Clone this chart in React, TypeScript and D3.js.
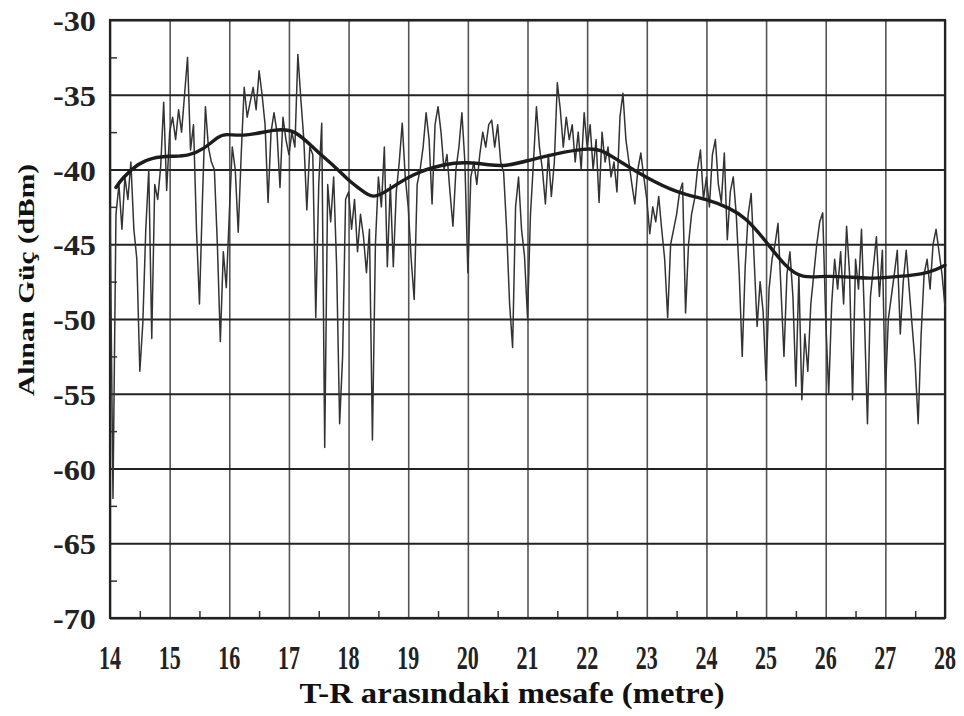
import * as d3 from "d3";
import { useEffect, useRef } from "react";

// raw received power, one sample every 0.05 m starting at 14 m
const rawStart = 14;
const rawStep = 0.05;
const rawPower = [
  // 14 m
  -42.5, -62, -43, -41, -44, -40.5, -42, -39.5, -44, -46,
  -53.5, -50.3, -44, -40, -51.3, -41, -42, -39.8, -35.5, -41.4,
  // 15 m
  -37.5, -36.5, -38, -36, -37.5, -35, -32.5, -38.7, -37, -44,
  -49, -42, -35.8, -38.5, -39.5, -40, -45, -51.5, -45.5, -47.9,
  // 16 m
  -43, -38.5, -40, -44.2, -39, -34.5, -36.5, -35.5, -34.5, -36,
  -33.4, -35, -37, -42.2, -37.5, -36.2, -37.5, -41.2, -36.5, -38,
  // 17 m
  -39, -37.5, -38.5, -32.3, -35.3, -38, -42.7, -38.5, -39, -49.9,
  -41, -36.9, -58.6, -41, -43.5, -40.5, -46.5, -57, -52.5, -42,
  // 18 m
  -41.5, -44, -42, -45.5, -43, -44.5, -46.9, -44, -58.1, -45,
  -40.5, -42.5, -38.5, -46.5, -41, -46.5, -41.5, -39.5, -36.9, -40.5,
  // 19 m
  -42.5, -46, -48.7, -41, -40, -38.5, -36.2, -38, -42.3, -37,
  -35.8, -37.5, -40, -39, -41.5, -43.8, -40, -38.5, -36.2, -39.5,
  // 20 m
  -46.9, -40.5, -39.5, -41, -39, -37.5, -38.5, -37, -36.7, -38.5,
  -37, -39.5, -40.2, -44, -49, -51.9, -42.5, -40.5, -44, -45.8,
  // 21 m
  -49.9, -43, -39.5, -35.8, -38.5, -40, -42.3, -39, -41.8, -39.5,
  -34.2, -36, -38.5, -36.5, -38, -37, -39.5, -37.5, -40, -36.2,
  // 22 m
  -38.5, -37, -40, -38, -42.2, -37.5, -39.5, -38.5, -40.5, -39.5,
  -41.5, -36.5, -34.9, -38, -39.5, -41, -42.3, -40, -38.9, -40.5,
  // 23 m
  -42, -44.3, -42.5, -43.5, -41.8, -44, -46, -49.9, -45, -44,
  -43, -41.5, -40.9, -49.6, -45, -43, -42, -40, -38.7, -42,
  // 24 m
  -40.5, -42.5, -39, -38, -41, -42.2, -38.9, -44.7, -41.5, -40.5,
  -43, -47, -52.5, -46.5, -43, -41.6, -46, -50.5, -47.5, -49.5,
  // 25 m
  -54.1, -48, -46, -45, -43.6, -48, -52.5, -47, -45.5, -48.5,
  -54.5, -47, -55.4, -51, -53.5, -49, -47, -45, -43.5, -42.9,
  // 26 m
  -50, -55, -49, -46, -48, -45.5, -49, -43.8, -47, -55.4,
  -46, -48, -44, -50, -57, -48.5, -46.5, -44.5, -48.5, -45.4,
  // 27 m
  -55, -50, -48.5, -47, -45.4, -51, -47.5, -45.4, -48, -50.5,
  -53, -57, -51, -47, -46, -48, -45, -44, -45.5, -47,
  // 28 m
  -49.2,
];

// running mean (thick line)
const meanDistance = [
  14.1, 14.2, 14.47, 14.7, 15.04, 15.31, 15.59, 15.81, 15.93, 16.26,
  16.77, 17.1, 17.44, 17.77, 17.99, 18.19, 18.41, 18.66, 19.06, 19.62,
  20.0, 20.37, 20.62, 21.01, 21.51, 21.96, 22.22, 22.52, 22.97, 23.52,
  24.03, 24.4, 24.65, 24.98, 25.32, 25.6, 25.99, 26.41, 26.74, 27.08,
  27.41, 27.75, 28.0,
];
const meanPower = [
  -41.2, -40.6, -39.6, -39.2, -39.1, -39.1, -38.6, -37.8, -37.6, -37.8,
  -37.3, -37.3, -38.7, -39.8, -40.7, -41.3, -42, -41.4, -40.3, -39.6,
  -39.5, -39.7, -39.8, -39.4, -38.9, -38.6, -38.6, -39.4, -40.5, -41.6,
  -42, -42.6, -43.2, -44.7, -46.5, -47.3, -47.1, -47.2, -47.3, -47.2,
  -47.1, -46.9, -46.4,
];

const xTicks = [14, 15, 16, 17, 18, 19, 20, 21, 22, 23, 24, 25, 26, 27, 28];
const yTicks = [-30, -35, -40, -45, -50, -55, -60, -65, -70];
const xMinorTicks = xTicks.slice(0, -1).map((d) => d + 0.5);
const yMinorTicks = yTicks.slice(1).map((d) => d + 2.5);

const xTitle = "T-R arasındaki mesafe (metre)";
const yTitle = "Alınan Güç (dBm)";

function App() {
  const ref = useRef<SVGSVGElement>(null);

  useEffect(() => {
    const svg = d3.select(ref.current);
    svg.selectAll("*").remove();

    const left = 110, right = 945, top = 20, bottom = 618;
    const font = "'Liberation Serif', 'Times New Roman', serif";

    const x = d3.scaleLinear().domain([14, 28]).range([left, right]);
    const y = d3.scaleLinear().domain([-70, -30]).range([bottom, top]);

    svg.append("rect").attr("width", 964).attr("height", 716).attr("fill", "#fff");

    // vertical grid
    const vg = svg
      .append("g")
      .attr("transform", `translate(0,${bottom})`)
      .call(d3.axisBottom(x).tickValues(xTicks).tickSize(-(bottom - top)).tickFormat(() => ""));
    vg.select(".domain").remove();
    vg.selectAll("line").attr("stroke", "#555").attr("stroke-width", 1.6);

    // horizontal grid
    const hg = svg
      .append("g")
      .attr("transform", `translate(${left},0)`)
      .call(d3.axisLeft(y).tickValues(yTicks).tickSize(-(right - left)).tickFormat(() => ""));
    hg.select(".domain").remove();
    hg.selectAll("line").attr("stroke", "#222").attr("stroke-width", 2.2);

    // minor ticks
    const mx = svg
      .append("g")
      .attr("transform", `translate(0,${bottom})`)
      .call(d3.axisBottom(x).tickValues(xMinorTicks).tickSize(-7).tickFormat(() => ""));
    mx.select(".domain").remove();
    mx.selectAll("line").attr("stroke", "#333").attr("stroke-width", 1.5);
    const my = svg
      .append("g")
      .attr("transform", `translate(${left},0)`)
      .call(d3.axisLeft(y).tickValues(yMinorTicks).tickSize(-7).tickFormat(() => ""));
    my.select(".domain").remove();
    my.selectAll("line").attr("stroke", "#333").attr("stroke-width", 1.5);

    // frame
    svg
      .append("rect")
      .attr("x", left)
      .attr("y", top)
      .attr("width", right - left)
      .attr("height", bottom - top)
      .attr("fill", "none")
      .attr("stroke", "#222")
      .attr("stroke-width", 2.2);

    // raw signal
    const raw = rawPower.map((v, i) => ({ d: rawStart + i * rawStep, v }));
    const rawLine = d3
      .line<{ d: number; v: number }>()
      .x((p) => x(p.d))
      .y((p) => y(p.v));
    svg
      .append("path")
      .datum(raw)
      .attr("fill", "none")
      .attr("stroke", "#333")
      .attr("stroke-width", 1.5)
      .attr("stroke-linejoin", "round")
      .attr("d", rawLine);

    // running mean
    const mean = meanDistance.map((d, i) => ({ d, v: meanPower[i] }));
    const meanLine = d3
      .line<{ d: number; v: number }>()
      .x((p) => x(p.d))
      .y((p) => y(p.v))
      .curve(d3.curveBasis);
    svg
      .append("path")
      .datum(mean)
      .attr("fill", "none")
      .attr("stroke", "#1c1c1c")
      .attr("stroke-width", 3.4)
      .attr("stroke-linecap", "round")
      .attr("d", meanLine);

    // x tick labels
    svg
      .append("g")
      .selectAll("text")
      .data(xTicks)
      .join("text")
      .attr("x", (d) => x(d))
      .attr("y", 669)
      .attr("text-anchor", "middle")
      .attr("font-family", font)
      .attr("font-weight", "bold")
      .attr("font-size", 34)
      .attr("fill", "#222")
      .attr("textLength", 22)
      .attr("lengthAdjust", "spacingAndGlyphs")
      .text((d) => d);

    // y tick labels
    svg
      .append("g")
      .selectAll("text")
      .data(yTicks)
      .join("text")
      .attr("x", 96)
      .attr("y", (d) => y(d) + 1)
      .attr("text-anchor", "end")
      .attr("dominant-baseline", "central")
      .attr("font-family", font)
      .attr("font-weight", "bold")
      .attr("font-size", 29)
      .attr("fill", "#222")
      .attr("textLength", 43)
      .attr("lengthAdjust", "spacingAndGlyphs")
      .text((d) => d);

    // axis titles
    svg
      .append("text")
      .attr("x", 512)
      .attr("y", 703)
      .attr("text-anchor", "middle")
      .attr("font-family", font)
      .attr("font-weight", "bold")
      .attr("font-size", 30)
      .attr("fill", "#111")
      .attr("textLength", 425)
      .attr("lengthAdjust", "spacingAndGlyphs")
      .text(xTitle);

    svg
      .append("text")
      .attr("transform", "translate(34,280) rotate(-90)")
      .attr("text-anchor", "middle")
      .attr("font-family", font)
      .attr("font-weight", "bold")
      .attr("font-size", 24)
      .attr("fill", "#111")
      .attr("textLength", 232)
      .attr("lengthAdjust", "spacingAndGlyphs")
      .text(yTitle);
  }, []);

  return (
    <div style={{ position: "absolute", left: 0, top: 0 }}>
      <svg ref={ref} width={964} height={716} style={{ display: "block" }} />
    </div>
  );
}

export default App;
